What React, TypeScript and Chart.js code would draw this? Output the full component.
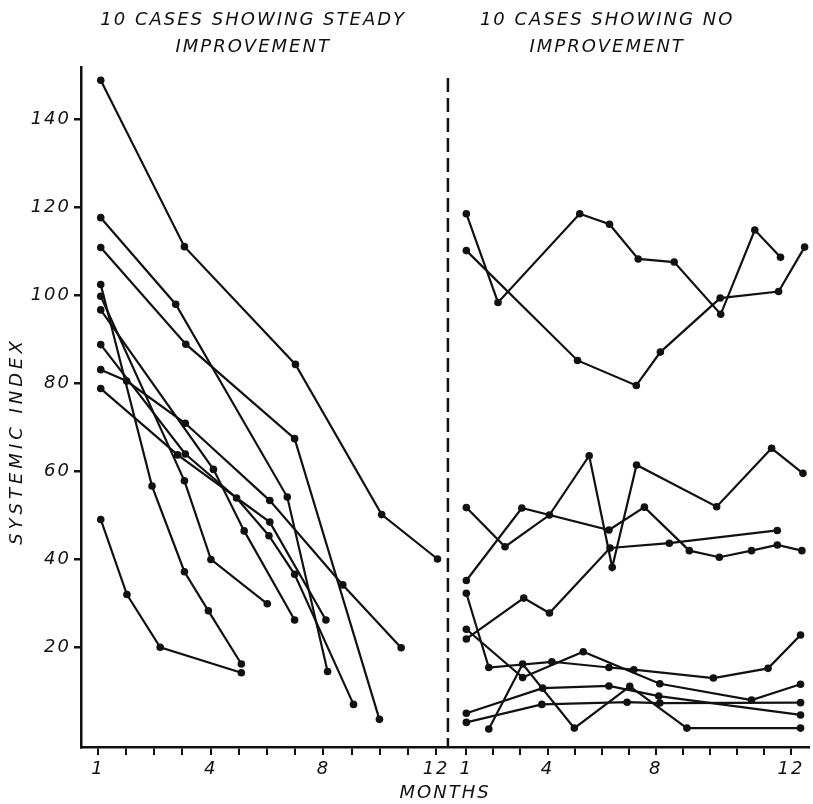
import { useEffect, useRef } from 'react';
import { Chart, registerables } from 'chart.js';

Chart.register(...registerables);

// ---- Left panel: 10 cases showing steady improvement  ([month, systemic index]) ----
const steady1 = [[0.1, 149.0], [3.07, 111.1], [7.01, 84.3], [10.07, 50.1], [12.05, 40.0]];
const steady2 = [[0.1, 117.7], [2.76, 98.0], [6.72, 54.1], [8.15, 14.4]];
const steady3 = [[0.1, 110.9], [3.12, 88.9], [6.98, 67.4], [9.99, 3.5]];
const steady4 = [[0.1, 102.5], [1.92, 56.6], [3.07, 37.1], [3.92, 28.2], [5.09, 16.1]];
const steady5 = [[0.1, 99.8], [3.07, 57.8], [4.01, 39.9], [6.01, 29.8]];
const steady6 = [[0.1, 96.7], [4.1, 60.4], [5.19, 46.4], [6.98, 26.1]];
const steady7 = [[0.1, 88.8], [3.1, 63.9], [4.92, 53.9], [6.07, 45.3], [6.98, 36.5], [9.07, 6.9]];
const steady8 = [[0.1, 83.1], [1.02, 80.5], [3.1, 70.9], [6.1, 53.3], [8.69, 34.1], [10.76, 19.8]];
const steady9 = [[0.1, 78.8], [2.83, 63.7], [6.1, 48.4], [8.09, 26.1]];
const steady10 = [[0.1, 49.0], [1.03, 31.9], [2.21, 19.9], [5.09, 14.1]];

// ---- Right panel: 10 cases showing no improvement ----
const none1 = [[0, 118.6], [1.17, 98.4], [4.19, 118.6], [5.29, 116.2], [6.35, 108.3], [7.68, 107.6], [9.4, 95.7], [10.66, 114.9], [11.61, 108.7]];
const none2 = [[0, 110.2], [4.11, 85.2], [6.28, 79.5], [7.17, 87.1], [9.38, 99.4], [11.54, 100.9], [12.5, 111.0]];
const none3 = [[0, 51.7], [1.43, 42.8], [3.07, 50.0], [4.54, 63.5], [5.39, 38.1], [6.29, 61.4], [9.25, 51.9], [11.28, 65.2], [12.44, 59.5]];
const none4 = [[0, 35.1], [2.05, 51.6], [5.27, 46.6], [6.58, 51.8], [8.24, 41.9], [9.35, 40.4], [10.54, 41.9], [11.49, 43.2], [12.4, 41.9]];
const none5 = [[0, 21.8], [2.12, 31.1], [3.07, 27.7], [5.31, 42.5], [7.5, 43.6], [11.49, 46.5]];
const none6 = [[0, 32.2], [0.83, 15.3], [3.16, 16.6], [5.27, 15.3], [6.19, 14.8], [9.13, 12.9], [11.15, 15.1], [12.35, 22.7]];
const none7 = [[0, 24.0], [2.08, 13.0], [4.32, 18.9], [7.15, 11.6], [10.54, 7.9], [12.35, 11.5]];
const none8 = [[0, 4.9], [2.82, 10.6], [5.27, 11.1], [7.11, 8.8], [12.35, 4.5]];
const none9 = [[0, 2.8], [2.79, 6.9], [5.94, 7.4], [7.15, 7.2], [12.35, 7.3]];
const none10 = [[0.83, 1.3], [2.08, 16.1], [3.99, 1.5], [6.04, 11.0], [8.15, 1.5], [12.35, 1.5]];

// ---- Tick labels / titles ----
const monthTicks = [0, 1, 2, 3, 4, 5, 6, 7, 8, 9, 10, 11, 12];
const leftMonthLabels = ['1', '', '', '', '4', '', '', '', '8', '', '', '', '12'];
const rightMonthLabels = ['1', '', '', '4', '', '', '', '8', '', '', '', '', '12'];
const yTickValues = [20, 40, 60, 80, 100, 120, 140];
const panelTitles = [
  ['10 CASES SHOWING STEADY', 'IMPROVEMENT'],
  ['10 CASES SHOWING NO', 'IMPROVEMENT'],
];
const xTitle = 'MONTHS';
const yTitle = 'SYSTEMIC INDEX';

const steadySeries = [steady1, steady2, steady3, steady4, steady5, steady6, steady7, steady8, steady9, steady10];
const noneSeries = [none1, none2, none3, none4, none5, none6, none7, none8, none9, none10];

export default function App() {
  const ref = useRef<HTMLCanvasElement>(null);

  useEffect(() => {
    if (!ref.current) return;
    const ink = '#111111';
    const family = 'DejaVu Sans';

    // layout of the two panels along one shared horizontal axis
    const X_MIN = -0.6;
    const X_MAX = 25.24;
    const X2_MIN = -14.24;
    const X2_MAX = 12.67;
    const toX = (v: number) => X_MIN + ((v - X2_MIN) / (X2_MAX - X2_MIN)) * (X_MAX - X_MIN);
    const DIVIDER_X = 12.42;
    const DIVIDER_TOP = 149.5;
    const TITLE_POS = [5.51, 18.07];
    const allMonthLabels = [...leftMonthLabels, ...rightMonthLabels];

    const mk = (data: number[][], axis: string) => ({
      data: data.map(([x, y]) => ({ x, y })),
      xAxisID: axis,
      yAxisID: 'y',
      borderColor: ink,
      backgroundColor: ink,
      borderWidth: 2.2,
      pointRadius: 3.8,
      pointHoverRadius: 3.8,
      pointBorderWidth: 0,
      fill: false,
      tension: 0,
    });

    const divider = {
      id: 'divider',
      afterDatasetsDraw(chart: any) {
        const { ctx } = chart;
        const xs = chart.scales.x;
        const ys = chart.scales.y;
        const px = xs.getPixelForValue(DIVIDER_X);
        ctx.save();
        ctx.strokeStyle = ink;
        ctx.lineWidth = 2.5;
        ctx.setLineDash([14, 6]);
        ctx.beginPath();
        ctx.moveTo(px, ys.getPixelForValue(DIVIDER_TOP));
        ctx.lineTo(px, ys.bottom);
        ctx.stroke();
        ctx.restore();
      },
    };

    const spacing = {
      id: 'spacing',
      beforeDraw(chart: any) {
        chart.ctx.letterSpacing = '2px';
      },
    };

    // wider letter spacing for the vertical axis title only
    const widenTitle = (s: any) => {
      if (s.__wide) return;
      const orig = s.drawTitle;
      s.drawTitle = function (...args: any[]) {
        const c = this.ctx;
        const prev = c.letterSpacing;
        c.letterSpacing = '4px';
        orig.apply(this, args);
        c.letterSpacing = prev;
      };
      s.__wide = true;
    };

    const chart = new Chart(ref.current, {
      type: 'line',
      data: {
        datasets: [
          ...steadySeries.map((s) => mk(s, 'x')),
          ...noneSeries.map((s) => mk(s, 'x2')),
        ],
      },
      options: {
        responsive: false,
        animation: false,
        events: [],
        layout: { padding: 0 },
        plugins: {
          legend: { display: false },
          tooltip: { enabled: false },
          title: { display: false },
        },
        scales: {
          x: {
            type: 'linear',
            axis: 'x',
            position: 'bottom',
            min: X_MIN,
            max: X_MAX,
            afterBuildTicks: (s: any) => {
              s.ticks = [
                ...monthTicks.map((v) => ({ value: v })),
                ...monthTicks.map((v) => ({ value: toX(v) })),
              ];
            },
            afterFit: (s: any) => {
              s.height = 57;
            },
            ticks: {
              autoSkip: false,
              maxRotation: 0,
              minRotation: 0,
              padding: 4,
              color: ink,
              font: { family, size: 18, style: 'italic' },
              callback: (_v: any, i: number) => allMonthLabels[i],
            },
            grid: { drawOnChartArea: false, drawTicks: true, tickLength: 8, color: ink, lineWidth: 2 },
            border: { display: true, color: ink, width: 2.5 },
            title: {
              display: true,
              text: xTitle,
              color: ink,
              font: { family, size: 18, style: 'italic' },
              padding: { top: 0, bottom: 0 },
            },
          },
          x2: {
            type: 'linear',
            axis: 'x',
            display: false,
            min: X2_MIN,
            max: X2_MAX,
          },
          xTop: {
            type: 'linear',
            axis: 'x',
            position: 'top',
            min: X_MIN,
            max: X_MAX,
            afterBuildTicks: (s: any) => {
              s.ticks = TITLE_POS.map((v) => ({ value: v }));
            },
            afterFit: (s: any) => {
              s.height = 67;
            },
            ticks: {
              autoSkip: false,
              maxRotation: 0,
              minRotation: 0,
              padding: 6,
              color: ink,
              font: { family, size: 18, style: 'italic', lineHeight: 1.5 },
              callback: (_v: any, i: number) => panelTitles[i],
            },
            grid: { display: false, drawTicks: false },
            border: { display: false },
          },
          y: {
            type: 'linear',
            position: 'left',
            min: -2.8,
            max: 152,
            afterBuildTicks: (s: any) => {
              s.ticks = yTickValues.map((v) => ({ value: v }));
            },
            afterFit: (s: any) => {
              s.width = 81;
            },
            afterUpdate: widenTitle,
            ticks: {
              padding: 3,
              color: ink,
              font: { family, size: 18, style: 'italic' },
            },
            grid: { drawOnChartArea: false, drawTicks: true, tickLength: 7, color: ink, lineWidth: 2.5 },
            border: { display: true, color: ink, width: 2.5 },
            title: {
              display: true,
              text: yTitle + '       ',
              color: ink,
              font: { family, size: 18, style: 'italic' },
              padding: { top: 7, bottom: 0 },
            },
          },
        },
      },
      plugins: [spacing, divider],
    } as any);

    return () => chart.destroy();
  }, []);

  return (
    <div style={{ position: 'fixed', left: 0, top: 0, width: 813, height: 804, background: '#ffffff' }}>
      <canvas ref={ref} width={813} height={804} style={{ display: 'block' }} />
    </div>
  );
}
